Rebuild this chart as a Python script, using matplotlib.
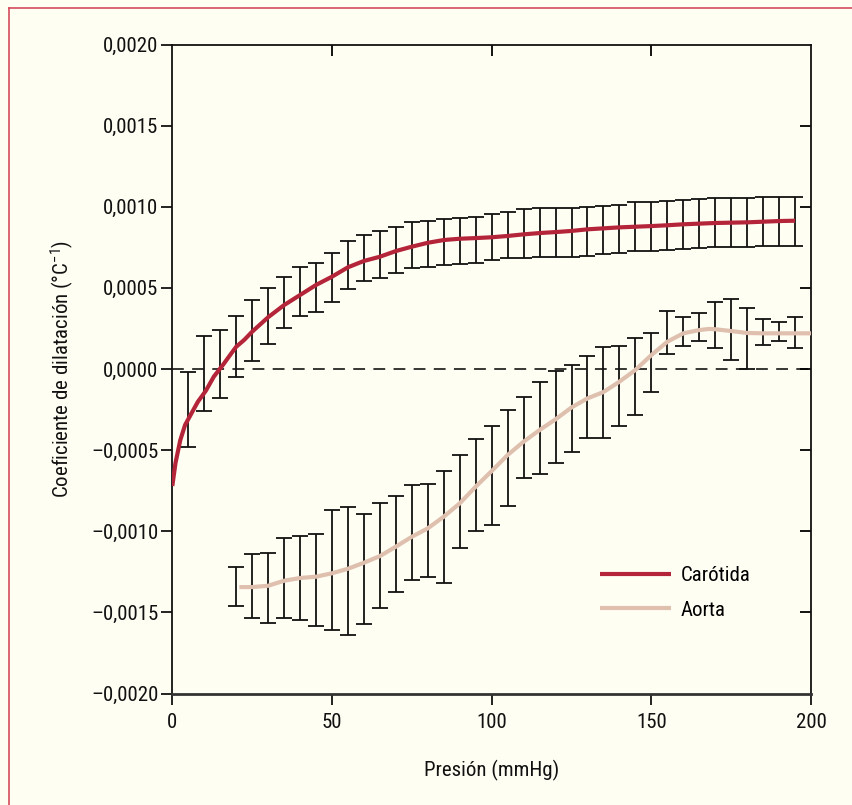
import numpy as np
import matplotlib
matplotlib.use("Agg")
import matplotlib.pyplot as plt
from matplotlib.lines import Line2D
from matplotlib.ticker import FuncFormatter, MultipleLocator

FONT = ['Roboto Condensed', 'Archivo Narrow', 'PT Sans Narrow', 'Liberation Sans', 'DejaVu Sans']
plt.rcParams['font.family'] = FONT
plt.rcParams['mathtext.default'] = 'regular'
plt.rcParams['lines.scale_dashes'] = False

# ---------------- data (values in units of 1e-3 °C^-1) ----------------
car_bar_x = np.arange(5, 200, 5)
car_bar_mean = np.array([-0.250, -0.026, 0.032, 0.139, 0.239, 0.326, 0.409, 0.476, 0.501, 0.564,
                         0.641, 0.686, 0.706, 0.733, 0.762, 0.772, 0.784, 0.789, 0.796, 0.811,
                         0.826, 0.837, 0.839, 0.841, 0.839, 0.847, 0.855, 0.864, 0.877, 0.880,
                         0.884, 0.889, 0.896, 0.905, 0.905, 0.904, 0.910, 0.910, 0.908]) * 1e-3
car_bar_err = np.array([0.229, 0.231, 0.209, 0.188, 0.188, 0.172, 0.158, 0.151, 0.152, 0.153,
                        0.150, 0.142, 0.143, 0.142, 0.142, 0.142, 0.143, 0.142, 0.141, 0.142,
                        0.142, 0.151, 0.151, 0.151, 0.151, 0.150, 0.148, 0.147, 0.150, 0.151,
                        0.151, 0.151, 0.152, 0.151, 0.151, 0.152, 0.152, 0.152, 0.152]) * 1e-3

car_line_x = [0, 1, 2.5, 4, 6, 8, 10.5, 13, 16, 18.5, 20, 22.5, 25, 30, 35, 40, 45, 50, 55, 60,
              65, 70, 75, 80, 85, 90, 95, 100, 105, 110, 115, 120, 125, 130, 135, 140, 145,
              150, 155, 160, 165, 170, 175, 180, 185, 190, 195]
car_line_y = np.array([-0.721, -0.579, -0.438, -0.345, -0.273, -0.202, -0.134, -0.047, 0.029,
                       0.097, 0.137, 0.179, 0.230, 0.319, 0.394, 0.456, 0.518, 0.569, 0.627,
                       0.666, 0.692, 0.727, 0.754, 0.778, 0.795, 0.803, 0.807, 0.812, 0.820,
                       0.830, 0.838, 0.844, 0.851, 0.861, 0.867, 0.873, 0.877, 0.881, 0.886,
                       0.892, 0.896, 0.900, 0.902, 0.904, 0.908, 0.912, 0.914]) * 1e-3

aor_bar_x = np.arange(20, 200, 5)
aor_bar_mean = np.array([-1.340, -1.337, -1.348, -1.287, -1.287, -1.301, -1.239, -1.246, -1.234,
                         -1.149, -1.079, -1.009, -0.996, -0.975, -0.816, -0.714, -0.656, -0.549,
                         -0.422, -0.363, -0.296, -0.243, -0.174, -0.145, -0.103, -0.047, 0.040,
                         0.225, 0.230, 0.259, 0.273, 0.243, 0.189, 0.230, 0.232, 0.226]) * 1e-3
aor_bar_err = np.array([0.121, 0.196, 0.216, 0.246, 0.260, 0.283, 0.370, 0.394, 0.338, 0.322,
                        0.296, 0.294, 0.286, 0.344, 0.286, 0.284, 0.305, 0.294, 0.251, 0.283,
                        0.285, 0.269, 0.253, 0.282, 0.247, 0.236, 0.180, 0.133, 0.088, 0.088,
                        0.142, 0.187, 0.189, 0.080, 0.058, 0.096]) * 1e-3

aor_line_x = [21, 25, 30, 35, 40, 45, 50, 55, 60, 65, 70, 75, 80, 85, 90, 95, 100, 105, 110,
              115, 120, 125, 130, 135, 140, 145, 150, 155, 160, 165, 168, 170, 175, 180, 185,
              190, 195, 200]
aor_line_y = np.array([-1.344, -1.344, -1.336, -1.305, -1.288, -1.280, -1.259, -1.231, -1.194,
                       -1.153, -1.095, -1.034, -0.982, -0.910, -0.828, -0.725, -0.629, -0.530,
                       -0.448, -0.376, -0.310, -0.237, -0.181, -0.142, -0.078, -0.006, 0.086,
                       0.168, 0.220, 0.240, 0.247, 0.245, 0.234, 0.222, 0.220, 0.220, 0.220,
                       0.220]) * 1e-3

series_names = ['Carótida', 'Aorta']
x_ticks = [0, 50, 100, 150, 200]

# ---------------- styling ----------------
BG = '#fffef3'
C_CAR = '#b5253a'
C_AOR = '#dfc0ae'
FS = 15

fig = plt.figure(figsize=(8.53, 8.05), dpi=100, facecolor=BG)
ax = fig.add_axes([0.202, 0.1385, 0.7488, 0.8062], facecolor=BG)

# outer frame (top + left)
fig.add_artist(Line2D([8.5 / 853, 1.0], [1 - 8.5 / 805, 1 - 8.5 / 805], transform=fig.transFigure,
                      color='#d44a5c', lw=1.2))
fig.add_artist(Line2D([8.5 / 853, 8.5 / 853], [0, 1 - 8.5 / 805], transform=fig.transFigure,
                      color='#d44a5c', lw=1.2))

ax.plot([0, 200], [0, 0], color='black', lw=1.1, dashes=(8.5, 6), zorder=1)

ekw = dict(fmt='none', ecolor='#111111', elinewidth=1.3, capsize=5.5, capthick=1.3, zorder=2)
ax.errorbar(car_bar_x, car_bar_mean, yerr=car_bar_err, **ekw)
ax.errorbar(aor_bar_x, aor_bar_mean, yerr=aor_bar_err, **ekw)

ax.plot(car_line_x, car_line_y, color=C_CAR, lw=3.0, solid_capstyle='butt', zorder=3,
        label=series_names[0])
ax.plot(aor_line_x, aor_line_y, color=C_AOR, lw=3.0, solid_capstyle='butt', zorder=3,
        label=series_names[1])

ax.set_xlim(0, 200)
ax.set_ylim(-0.002, 0.002)
ax.set_xticks(x_ticks)
ax.yaxis.set_major_locator(MultipleLocator(0.0005))


def yfmt(v, pos):
    s = f"{v:.4f}".replace('.', ',')
    if s.startswith('-'):
        s = '\u2013' + s[1:]
    if s == '\u20130,0000':
        s = '0,0000'
    return s


ax.yaxis.set_major_formatter(FuncFormatter(yfmt))

for side in ['left', 'right', 'top']:
    ax.spines[side].set_linewidth(1.3)
    ax.spines[side].set_color('#111111')
ax.spines['bottom'].set_linewidth(2.0)
ax.spines['bottom'].set_color('#333333')

ax.tick_params(axis='both', which='major', labelsize=FS, colors='#111111', width=1.3, length=8)
ax.tick_params(axis='y', direction='out', left=True, right=False, pad=2)
ax.tick_params(axis='x', direction='out', bottom=True, pad=6)

# inward ticks on top and right
ax_top = ax.secondary_xaxis('top')
ax_top.set_xticks([50, 100, 150])
ax_top.tick_params(direction='in', length=8, width=1.3, labeltop=False)
ax_top.spines['top'].set_visible(False)
ax_r = ax.secondary_yaxis('right')
ax_r.set_yticks(np.arange(-0.0015, 0.00151, 0.0005))
ax_r.tick_params(direction='in', length=8, width=1.3, labelright=False)
ax_r.spines['right'].set_visible(False)

ax.set_xlabel('Presión (mmHg)', fontsize=FS, labelpad=20, color='#111111')
ax.set_ylabel('Coeficiente de dilatación (°C$^{-1}$)', fontsize=FS, labelpad=11, color='#111111')

leg = ax.legend(loc='lower left', bbox_to_anchor=(0.64, 0.085), frameon=False, fontsize=FS,
                handlelength=3.4, handletextpad=0.5, labelspacing=0.75)

fig.savefig('out.png', dpi=100, facecolor=BG)
